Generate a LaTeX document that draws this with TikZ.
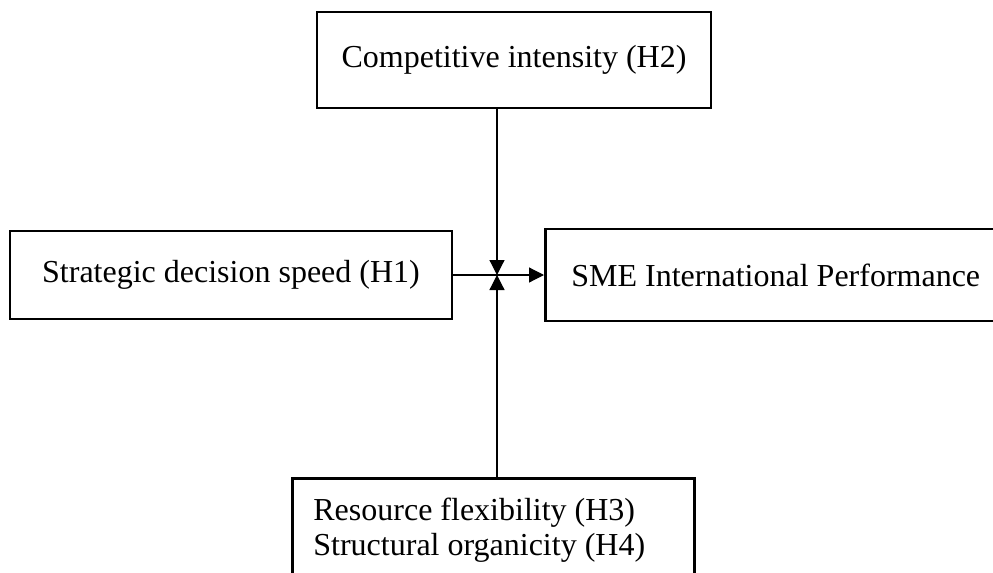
\documentclass[tikz,border=0pt]{standalone}
\usepackage{fontspec}
\setmainfont{Liberation Serif}
\usetikzlibrary{arrows.meta}

\tikzset{
  box/.style={draw, line width=1.4pt, font=\fontsize{16}{17.5}\selectfont, inner sep=0pt},
  link/.style={line width=0.6pt, -{Triangle[length=7.5pt,width=7.5pt]}}
}

\begin{document}
\begin{tikzpicture}[x=0.5pt, y=-0.5pt]
    % Frame of the picture
    \useasboundingbox (0,0) rectangle (993,573);
    \clip (0,0) rectangle (993,573);

    % Define the point where the arrows meet
    \coordinate (hub) at (497,275);

    % Draw the boxes
    \node[box, minimum width=197pt, minimum height=48pt] (competition) at (514,60) {Competitive intensity (H2)};
    \node[box, minimum width=221pt, minimum height=44pt] (decision) at (231,275) {Strategic decision speed (H1)};
    \node[box, anchor=west, minimum height=46pt, inner xsep=13pt, text width=217pt, align=flush left] (performance) at (544,275) {SME International Performance};
    \node[box, anchor=north west, inner xsep=10.5pt, inner ysep=10pt, text width=180pt, align=flush left] (resources) at (291,477) {Resource flexibility (H3)\\ Structural organicity (H4)};

    % Draw the arrows
    \draw[link] (decision.east) -- (performance.west);
    \draw[link] (competition.south -| hub) -- (hub); % from above
    \draw[link] (resources.north -| hub) -- (hub); % from below
\end{tikzpicture}
\end{document}
